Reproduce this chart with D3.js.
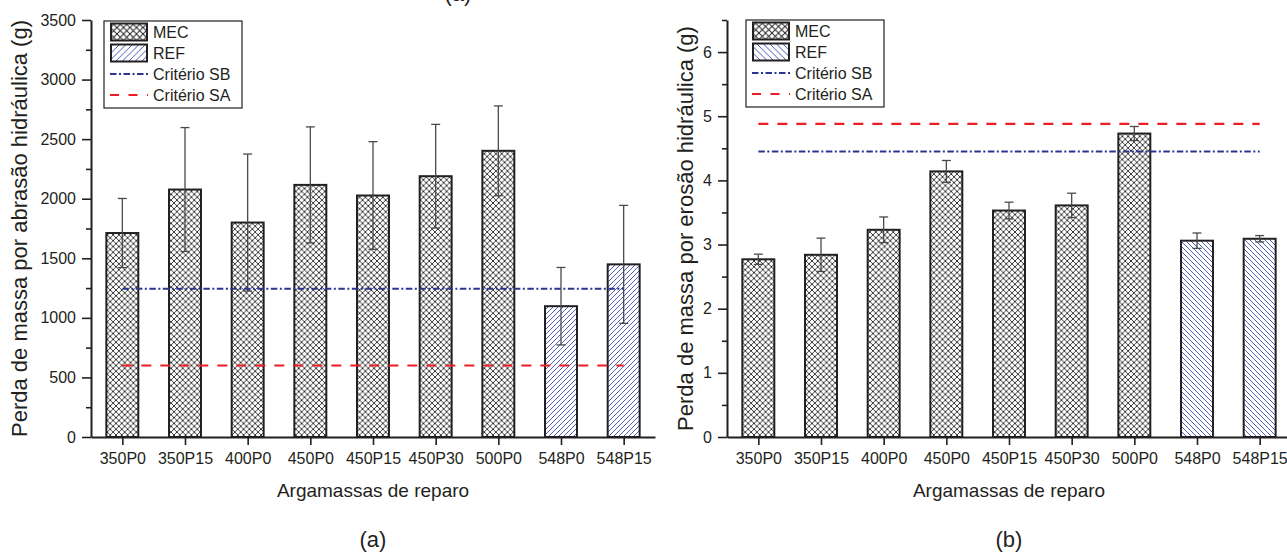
<!DOCTYPE html>
<html>
<head>
<meta charset="utf-8">
<script src="https://cdn.jsdelivr.net/npm/d3@7/dist/d3.min.js"></script>
<style>
  body { margin: 0; background: #fff; }
  svg { display: block; }
  text { font-family: "Liberation Sans", Arial, Helvetica, sans-serif; fill: #231f20; }
</style>
</head>
<body>
<svg id="fig" width="1287" height="560"></svg>
<script>
// ---- data ----
const categories = ["350P0", "350P15", "400P0", "450P0", "450P15", "450P30", "500P0", "548P0", "548P15"];
const groups     = ["MEC", "MEC", "MEC", "MEC", "MEC", "MEC", "MEC", "REF", "REF"];

// (a) mass loss by hydraulic abrasion, g
const abrasionMean = [1712, 2077, 1800, 2116, 2027, 2189, 2402, 1098, 1449];
const abrasionErr  = [290, 520, 575, 487, 452, 435, 377, 325, 495];
const abrasionSB   = 1245;
const abrasionSA   = 600;

// (b) mass loss by hydraulic erosion, g
const erosionMean = [2.77, 2.84, 3.23, 4.14, 3.53, 3.61, 4.73, 3.06, 3.09];
const erosionErr  = [0.08, 0.26, 0.20, 0.17, 0.13, 0.19, 0.11, 0.12, 0.05];
const erosionSB   = 4.45;
const erosionSA   = 4.88;

const abrasionTicks      = [0, 500, 1000, 1500, 2000, 2500, 3000, 3500];
const abrasionMinorTicks = [250, 750, 1250, 1750, 2250, 2750, 3250];
const erosionTicks       = [0, 1, 2, 3, 4, 5, 6];
const erosionMinorTicks  = [0.5, 1.5, 2.5, 3.5, 4.5, 5.5, 6.5];

const legendLabels = ["MEC", "REF", "Critério SB", "Critério SA"];
const xTitle = "Argamassas de reparo";

// ---- styles ----
const INK = "#231f20";
const SB_COLOR = "#2b3590";
const SA_COLOR = "#ee1c25";
const REF_COLOR = "#3344aa";
const SB_DASH = "6.5,2.5,2,2.5";
const SA_DASH = "10,9";

const svg = d3.select("#fig");
const defs = svg.append("defs");

// cross-hatch for MEC bars
function crossPattern(id, s, w) {
  const p = defs.append("pattern").attr("id", id)
    .attr("patternUnits", "userSpaceOnUse").attr("width", s).attr("height", s);
  p.append("rect").attr("width", s).attr("height", s).attr("fill", "#fff");
  p.append("path")
    .attr("d", `M0,0L${s},${s}M${s},0L0,${s}`)
    .attr("stroke", "#262626").attr("stroke-width", w).attr("stroke-linecap", "square");
}
// single diagonal hatch for REF bars; dir = 1 rising "/", -1 falling "\"
function linePattern(id, s, w, dir) {
  const p = defs.append("pattern").attr("id", id)
    .attr("patternUnits", "userSpaceOnUse").attr("width", s).attr("height", s);
  p.append("rect").attr("width", s).attr("height", s).attr("fill", "#fff");
  const d = dir > 0
    ? `M0,${s}L${s},0M${-s/2},${s/2}L${s/2},${-s/2}M${s/2},${s*1.5}L${s*1.5},${s/2}`
    : `M0,0L${s},${s}M${-s/2},${s/2}L${s/2},${s*1.5}M${s/2},${-s/2}L${s*1.5},${s/2}`;
  p.append("path").attr("d", d).attr("stroke", REF_COLOR).attr("stroke-width", w);
}
crossPattern("mec", 5.8, 0.9);
crossPattern("mecLegend", 6.5, 1);
linePattern("refUp", 5, 0.85, 1);
linePattern("refDown", 5, 0.85, -1);
linePattern("refUpLegend", 6.5, 0.9, 1);
linePattern("refDownLegend", 6.5, 0.9, -1);

const panels = [
  {
    mean: abrasionMean, err: abrasionErr, sb: abrasionSB, sa: abrasionSA,
    ticks: abrasionTicks, minor: abrasionMinorTicks, yMax: 3500,
    xRange: [91, 655], yRange: [437, 20],
    yTitle: "Perda de massa por abrasão hidráulica (g)", yTitleX: 27,
    refFill: "url(#refUp)", refLegend: "url(#refUpLegend)",
    legendX: 104, legendY: 21, label: "(a)"
  },
  {
    mean: erosionMean, err: erosionErr, sb: erosionSB, sa: erosionSA,
    ticks: erosionTicks, minor: erosionMinorTicks, yMax: 6.5,
    xRange: [727, 1291], yRange: [437, 20],
    yTitle: "Perda de massa por erosão hidráulica (g)", yTitleX: 693,
    refFill: "url(#refDown)", refLegend: "url(#refDownLegend)",
    legendX: 746, legendY: 20, label: "(b)"
  }
];

panels.forEach(P => {
  const g = svg.append("g");
  const x = d3.scalePoint().domain(categories).range(P.xRange).padding(0.5);
  const y = d3.scaleLinear().domain([0, P.yMax]).range(P.yRange);
  const bw = x.step() * 0.51;

  // bars
  g.selectAll("rect.bar").data(categories).join("rect")
    .attr("class", "bar")
    .attr("x", c => x(c) - bw / 2)
    .attr("width", bw)
    .attr("y", (c, i) => y(P.mean[i]))
    .attr("height", (c, i) => y(0) - y(P.mean[i]))
    .attr("fill", (c, i) => groups[i] === "MEC" ? "url(#mec)" : P.refFill)
    .attr("stroke", INK).attr("stroke-width", 2);

  // error bars
  const eb = g.selectAll("g.err").data(categories).join("g").attr("class", "err")
    .attr("stroke", "#4a4a4a").attr("stroke-width", 1.3).attr("fill", "none");
  eb.append("line")
    .attr("x1", c => x(c)).attr("x2", c => x(c))
    .attr("y1", (c, i) => y(P.mean[i] - P.err[i]))
    .attr("y2", (c, i) => y(P.mean[i] + P.err[i]));
  [1, -1].forEach(sgn => {
    eb.append("line")
      .attr("x1", c => x(c) - 4.5).attr("x2", c => x(c) + 4.5)
      .attr("y1", (c, i) => y(P.mean[i] + sgn * P.err[i]))
      .attr("y2", (c, i) => y(P.mean[i] + sgn * P.err[i]));
  });

  // criterion lines
  const x0 = x(categories[0]), x1 = x(categories[categories.length - 1]);
  g.append("line").attr("x1", x0).attr("x2", x1).attr("y1", y(P.sb)).attr("y2", y(P.sb))
    .attr("stroke", SB_COLOR).attr("stroke-width", 2).attr("stroke-dasharray", SB_DASH);
  g.append("line").attr("x1", x0).attr("x2", x1).attr("y1", y(P.sa)).attr("y2", y(P.sa))
    .attr("stroke", SA_COLOR).attr("stroke-width", 2.2).attr("stroke-dasharray", SA_DASH);

  // y axis (major + minor)
  g.append("g").attr("transform", `translate(${P.xRange[0]},0)`)
    .call(d3.axisLeft(y).tickValues(P.ticks).tickSize(9).tickSizeOuter(0).tickPadding(6)
      .tickFormat(d3.format("d")));
  g.append("g").attr("transform", `translate(${P.xRange[0]},0)`)
    .call(d3.axisLeft(y).tickValues(P.minor).tickSize(5).tickSizeOuter(0).tickFormat(""))
    .call(a => a.select(".domain").remove());

  // x axis
  g.append("g").attr("transform", `translate(0,${y(0)})`)
    .call(d3.axisBottom(x).tickSize(8).tickSizeOuter(0).tickPadding(8));

  g.selectAll(".domain").attr("stroke", INK).attr("stroke-width", 2);
  g.selectAll(".tick line").attr("stroke", INK).attr("stroke-width", 1.6);
  g.selectAll(".tick text").attr("font-size", 16).attr("fill", INK)
    .style("font-family", '"Liberation Sans", Arial, sans-serif');

  // axis titles
  const xc = (P.xRange[0] + P.xRange[1]) / 2;
  g.append("text").attr("x", xc).attr("y", 497).attr("text-anchor", "middle")
    .attr("font-size", 19).text(xTitle);
  g.append("text")
    .attr("transform", `translate(${P.yTitleX},${(P.yRange[0] + P.yRange[1]) / 2}) rotate(-90)`)
    .attr("text-anchor", "middle").attr("font-size", 22).text(P.yTitle);

  // panel label
  g.append("text").attr("x", xc).attr("y", 547).attr("text-anchor", "middle")
    .attr("font-size", 22).text(P.label);

  // legend
  const L = g.append("g").attr("transform", `translate(${P.legendX},${P.legendY})`);
  L.append("rect").attr("width", 138).attr("height", 87)
    .attr("fill", "#fff").attr("stroke", INK).attr("stroke-width", 1.2);
  const rowY = [11, 32, 53, 74];
  L.append("rect").attr("x", 7).attr("y", rowY[0] - 8.5).attr("width", 36).attr("height", 17)
    .attr("fill", "url(#mecLegend)").attr("stroke", INK).attr("stroke-width", 2);
  L.append("rect").attr("x", 7).attr("y", rowY[1] - 8.5).attr("width", 36).attr("height", 17)
    .attr("fill", P.refLegend).attr("stroke", INK).attr("stroke-width", 2);
  L.append("line").attr("x1", 6).attr("x2", 44).attr("y1", rowY[2]).attr("y2", rowY[2])
    .attr("stroke", SB_COLOR).attr("stroke-width", 2).attr("stroke-dasharray", SB_DASH);
  L.append("line").attr("x1", 6).attr("x2", 44).attr("y1", rowY[3]).attr("y2", rowY[3])
    .attr("stroke", SA_COLOR).attr("stroke-width", 2.2).attr("stroke-dasharray", "9,9.5");
  L.selectAll("text.lg").data(legendLabels).join("text").attr("class", "lg")
    .attr("x", 49).attr("y", (d, i) => rowY[i] + 6).attr("font-size", 16).text(d => d);
});

// label from the figure row above, clipped by the top edge
svg.append("text").attr("x", 458).attr("y", 1).attr("text-anchor", "middle")
  .attr("font-size", 22).text("(a)");
</script>
</body>
</html>
